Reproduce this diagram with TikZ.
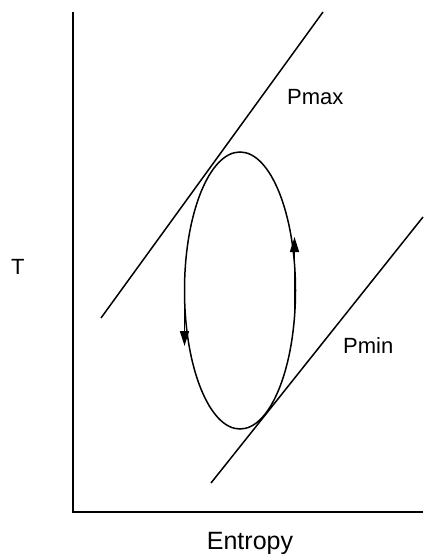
\documentclass[tikz,border=0pt]{standalone}
\usepackage{fontspec}
\setmainfont{Liberation Sans}
\usetikzlibrary{arrows.meta}
\begin{document}
\begin{tikzpicture}[x=1pt,y=-1pt,
  axis/.style={line width=2pt},
  curve/.style={line width=1.5pt},
  lbl/.style={font=\fontsize{22}{24}\selectfont, inner sep=0pt, anchor=base west},
  flow/.style={line width=1.6pt, -{Triangle[length=15pt,width=9pt]}}]
\useasboundingbox (0,0) rectangle (423,554);
% axes
\coordinate (top) at (73,12);
\coordinate (origin) at (73,512);
\coordinate (xend) at (423,512);
\draw[axis] (top) -- (origin) -- (xend);
% pressure lines
\coordinate (pmaxA) at (101,318);
\coordinate (pmaxB) at (323,12);
\coordinate (pminA) at (211,483);
\coordinate (pminB) at (423,217);
\draw[curve] (pmaxA) -- (pmaxB);
\draw[curve] (pminA) -- (pminB);
% cycle
\coordinate (c) at (240,290.5);
\draw[curve] (c) ellipse [x radius=55.5, y radius=138.5];
\coordinate (rA) at (294.5,318);
\coordinate (rB) at (294.5,237);
\coordinate (lA) at (184.5,300);
\coordinate (lB) at (184.5,346);
\draw[flow] (rA) -- (rB);
\draw[flow] (lA) -- (lB);
% labels
\node[lbl] (pmax) at (287,104) {Pmax};
\node[lbl] (pmin) at (343,353) {Pmin};
\node[lbl] (tlab) at (11,274) {T};
\node[font=\fontsize{25}{27}\selectfont, inner sep=0pt, anchor=base] (ent) at (250,549) {Entropy};
\end{tikzpicture}
\end{document}
